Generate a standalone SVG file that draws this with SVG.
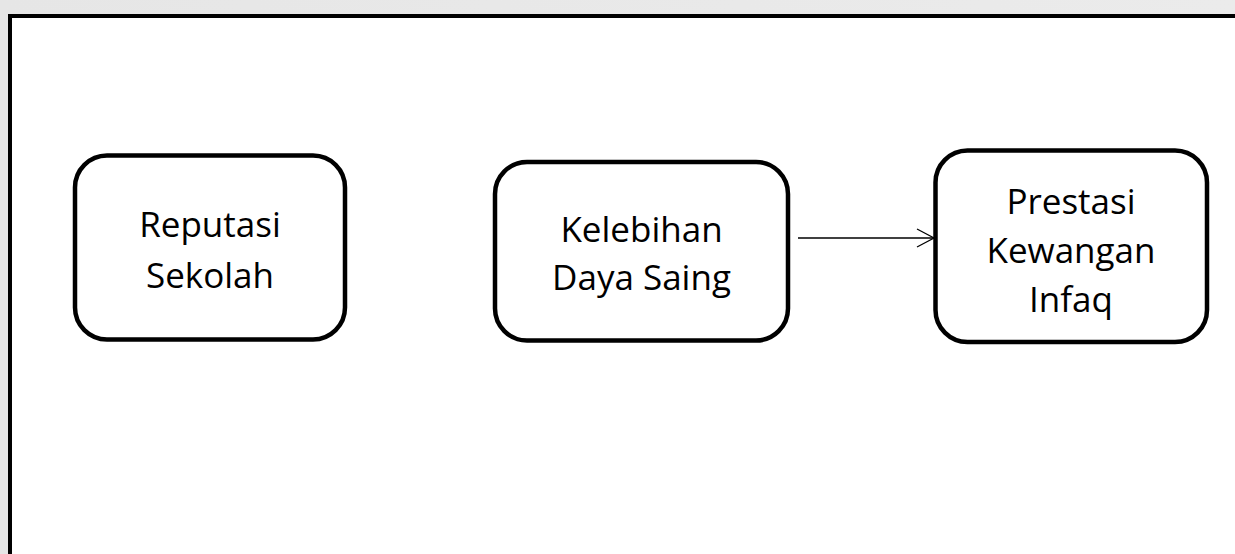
<svg xmlns="http://www.w3.org/2000/svg" width="1235" height="554" viewBox="0 0 1235 554">
<defs>
<linearGradient id="bg" x1="0" y1="0" x2="1" y2="0">
<stop offset="0" stop-color="#e6e6e6"/>
<stop offset="1" stop-color="#ebebeb"/>
</linearGradient>
<marker id="arr" viewBox="0 0 20 20" refX="18" refY="10" markerWidth="20" markerHeight="20" markerUnits="userSpaceOnUse" orient="auto">
<path d="M1,1 L18,10 L1,19" fill="none" stroke="#000" stroke-width="1.3"/>
</marker>
<style>
.node{fill:#fff;stroke:#000;stroke-width:4.5}
.lbl{font-family:"Open Sans","Liberation Sans",sans-serif;font-size:35px;fill:#000;text-anchor:middle}
.conn{stroke:#000;stroke-width:1.3;fill:none}
</style>
</defs>
<rect x="0" y="0" width="1235" height="554" fill="url(#bg)"/>
<rect id="frame" x="10" y="16" width="1240" height="560" fill="#fff" stroke="#000" stroke-width="4"/>
<g id="node-reputasi">
<rect class="node" x="75" y="155.5" width="270" height="184" rx="32" ry="32"/>
<text class="lbl" x="210" y="237">Reputasi</text>
<text class="lbl" x="210" y="288">Sekolah</text>
</g>
<g id="node-kelebihan">
<rect class="node" x="495" y="162" width="293" height="178.5" rx="32" ry="32"/>
<text class="lbl" x="641.5" y="241.5">Kelebihan</text>
<text class="lbl" x="641.5" y="290">Daya Saing</text>
</g>
<g id="node-prestasi">
<rect class="node" x="935.5" y="150.5" width="271.5" height="191.5" rx="32" ry="32"/>
<text class="lbl" x="1071" y="214">Prestasi</text>
<text class="lbl" x="1071" y="263">Kewangan</text>
<text class="lbl" x="1071" y="311.5">Infaq</text>
</g>
<g id="connectors">
<line class="conn" x1="798" y1="238" x2="934" y2="238" marker-end="url(#arr)"/>
</g>
</svg>
